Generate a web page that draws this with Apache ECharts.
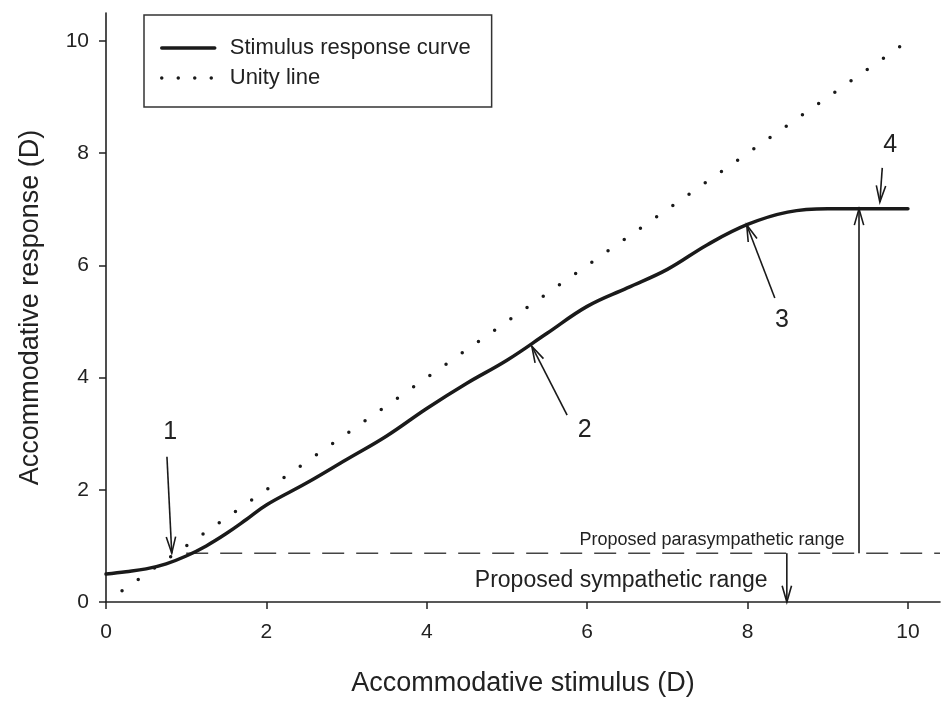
<!DOCTYPE html>
<html>
<head>
<meta charset="utf-8">
<script src="https://cdn.jsdelivr.net/npm/echarts@6/dist/echarts.min.js"></script>
<style>
  html, body { margin: 0; padding: 0; background: #fff; }
  #chart { width: 942px; height: 702px; }
</style>
</head>
<body>
<div id="chart"></div>
<script>
// Stimulus-response curve (stimulus D, response D)
const stimulus = [0, 0.25, 0.5, 0.75, 1.0, 1.25, 1.5, 1.75, 2.0, 2.5, 3.0, 3.5, 4.0, 4.5, 5.0, 5.5, 6.0, 6.5, 7.0, 7.5, 8.0, 8.5, 9.0, 9.5, 10.0];
const response = [0.50, 0.54, 0.59, 0.68, 0.82, 1.00, 1.22, 1.47, 1.73, 2.12, 2.54, 2.96, 3.45, 3.90, 4.31, 4.79, 5.27, 5.60, 5.93, 6.37, 6.73, 6.95, 7.01, 7.01, 7.01];

// Unity line end points
const unityLine = [[0.2, 0.2], [9.9, 9.9]];

// Boundary between the two proposed ranges
const rangeBoundary = 0.87;
const boundaryLine = [[1.0, rangeBoundary], [10.4, rangeBoundary]];

// Annotation arrows: [x1, y1, x2, y2], head at (x2, y2)
const arrows = [
  [0.76, 2.59, 0.82, 0.87],
  [5.75, 3.33, 5.31, 4.56],
  [8.34, 5.42, 7.99, 6.72],
  [9.68, 7.74, 9.65, 7.13],
  [9.39, rangeBoundary, 9.39, 7.01],
  [8.49, rangeBoundary, 8.49, 0.0]
];

// Numbered callouts
const calloutText = ['1', '2', '3', '4'];
const calloutPos = [[0.80, 3.03], [5.97, 3.07], [8.43, 5.03], [9.78, 8.15]];

// Range captions (right-aligned at the given point)
const rangeText = ['Proposed parasympathetic range', 'Proposed sympathetic range'];
const rangeSize = [18, 23];
const rangePos = [[9.21, 1.105], [8.25, 0.374]];

const xTicks = [0, 2, 4, 6, 8, 10];
const yTicks = [0, 2, 4, 6, 8, 10];

const FONT = '"Liberation Sans", Arial, Helvetica, sans-serif';
const INK = '#1a1a1a';
const TEXT = '#222';

const chart = echarts.init(document.getElementById('chart'), null, { renderer: 'canvas' });

function arrowItem(params, api) {
  const p1 = api.coord([api.value(0), api.value(1)]);
  const p2 = api.coord([api.value(2), api.value(3)]);
  const dx = p2[0] - p1[0], dy = p2[1] - p1[1];
  const len = Math.sqrt(dx * dx + dy * dy) || 1;
  const ux = dx / len, uy = dy / len;
  const headLen = 17, spread = 0.28;
  const cos = Math.cos(spread), sin = Math.sin(spread);
  const bx = -ux, by = -uy;
  const h1 = [p2[0] + headLen * (bx * cos - by * sin), p2[1] + headLen * (bx * sin + by * cos)];
  const h2 = [p2[0] + headLen * (bx * cos + by * sin), p2[1] + headLen * (-bx * sin + by * cos)];
  const style = { stroke: INK, lineWidth: 1.6, fill: null };
  return {
    type: 'group',
    children: [
      { type: 'line', shape: { x1: p1[0], y1: p1[1], x2: p2[0], y2: p2[1] }, style: style },
      { type: 'polyline', shape: { points: [h1, p2, h2] }, style: style }
    ]
  };
}

function calloutItem(params, api) {
  const p = api.coord([api.value(0), api.value(1)]);
  return {
    type: 'text',
    x: p[0], y: p[1],
    style: {
      text: calloutText[params.dataIndex],
      fill: TEXT, font: '25px ' + FONT,
      align: 'center', verticalAlign: 'middle'
    }
  };
}

function rangeItem(params, api) {
  const p = api.coord([api.value(0), api.value(1)]);
  return {
    type: 'text',
    x: p[0], y: p[1],
    style: {
      text: rangeText[params.dataIndex],
      fill: TEXT, font: rangeSize[params.dataIndex] + 'px ' + FONT,
      align: 'right', verticalAlign: 'middle'
    }
  };
}

const option = {
  animation: false,
  backgroundColor: '#fff',
  textStyle: { fontFamily: FONT },
  grid: { left: 106, right: 2, top: 13, bottom: 100, containLabel: false },
  legend: {
    show: true,
    left: 144, top: 15,
    orient: 'vertical',
    padding: [22, 21, 18, 16],
    itemGap: 8,
    itemWidth: 53, itemHeight: 22,
    borderColor: '#333', borderWidth: 1.5, borderRadius: 0,
    backgroundColor: '#fff',
    textStyle: { fontSize: 22, color: TEXT, fontFamily: FONT, padding: [0, 0, 0, 10] },
    data: [
      { name: 'Stimulus response curve', itemStyle: { opacity: 0 },
        lineStyle: { color: INK, width: 3.5, type: 'solid' } },
      { name: 'Unity line', itemStyle: { opacity: 0 },
        lineStyle: { color: INK, width: 3.5, type: [0, 16.5], cap: 'round' } }
    ]
  },
  xAxis: {
    type: 'value', min: 0, max: 10.4, interval: 2,
    name: 'Accommodative stimulus (D)',
    nameLocation: 'middle', nameGap: 68,
    nameTextStyle: { fontSize: 27, color: TEXT, fontFamily: FONT },
    axisLine: { onZero: false, lineStyle: { color: '#222', width: 1.6 } },
    axisTick: { inside: false, length: 7, customValues: xTicks, lineStyle: { color: '#222', width: 1.5 } },
    axisLabel: { customValues: xTicks, margin: 20, fontSize: 21, color: TEXT, fontFamily: FONT },
    splitLine: { show: false }
  },
  yAxis: {
    type: 'value', min: 0, max: 10.5, interval: 2,
    name: 'Accommodative response (D)',
    nameLocation: 'middle', nameGap: 62,
    nameTextStyle: { fontSize: 27, color: TEXT, fontFamily: FONT },
    axisLine: { onZero: false, lineStyle: { color: '#222', width: 1.6 } },
    axisTick: { inside: false, length: 7, customValues: yTicks, lineStyle: { color: '#222', width: 1.5 } },
    axisLabel: { customValues: yTicks, margin: 17, fontSize: 21, color: TEXT, fontFamily: FONT },
    splitLine: { show: false }
  },
  series: [
    {
      name: 'Unity line', type: 'line',
      data: unityLine, showSymbol: false, symbol: 'none',
      lineStyle: { color: INK, width: 3.5, type: [0, 19.77], cap: 'round' },
      z: 2
    },
    {
      name: 'Stimulus response curve', type: 'line',
      data: stimulus.map((x, i) => [x, response[i]]),
      smooth: 0.4, showSymbol: false, symbol: 'none',
      lineStyle: { color: INK, width: 3.5, cap: 'round', join: 'round' },
      z: 3
    },
    {
      name: 'boundary', type: 'line',
      data: boundaryLine, showSymbol: false, symbol: 'none',
      lineStyle: { color: '#444', width: 1.6, type: [22, 12] },
      z: 2, silent: true
    },
    {
      name: 'arrows', type: 'custom',
      data: arrows, encode: { x: [0, 2], y: [1, 3] },
      renderItem: arrowItem, clip: false, silent: true, z: 4
    },
    {
      name: 'callouts', type: 'custom',
      data: calloutPos, encode: { x: 0, y: 1 },
      renderItem: calloutItem, clip: false, silent: true, z: 4
    },
    {
      name: 'ranges', type: 'custom',
      data: rangePos, encode: { x: 0, y: 1 },
      renderItem: rangeItem, clip: false, silent: true, z: 4
    }
  ]
};

chart.setOption(option);
</script>
</body>
</html>
